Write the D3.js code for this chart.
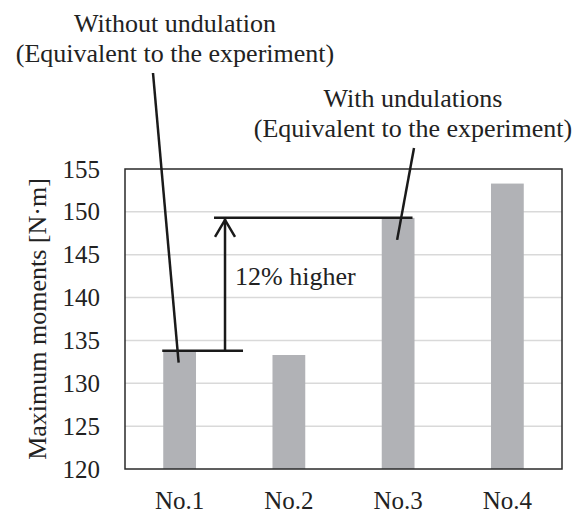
<!DOCTYPE html>
<html>
<head>
<meta charset="utf-8">
<script src="https://cdn.jsdelivr.net/npm/d3@7"></script>
</head>
<body style="margin:0">
<svg id="chart" width="586" height="513"></svg>
<script>
// Maximum moment per case
const categories = ["No.1", "No.2", "No.3", "No.4"];
const moments = [133.8, 133.3, 149.3, 153.3];
const yTicks = [120, 125, 130, 135, 140, 145, 150, 155];
const yTitle = "Maximum moments [N\u00B7m]";
const noteLeft = ["Without undulation", "(Equivalent to the experiment)"];
const noteRight = ["With undulations", "(Equivalent to the experiment)"];
const increaseLabel = "12% higher";

const typefaces = ["Liberation Serif"];
const INK = "#222";

const svg = d3.select("#chart");
const plot = { left: 125, right: 562, top: 169, bottom: 469 };

const x = d3.scaleBand()
  .domain(categories)
  .range([plot.left, plot.right])
  .paddingInner(0.7)
  .paddingOuter(0.35);

const y = d3.scaleLinear()
  .domain([120, 155])
  .range([plot.bottom, plot.top]);

// gridlines
svg.append("g")
  .selectAll("line")
  .data(yTicks.slice(1, -1))
  .join("line")
  .attr("x1", plot.left).attr("x2", plot.right)
  .attr("y1", d => y(d)).attr("y2", d => y(d))
  .attr("stroke", "#d9d9d9")
  .attr("stroke-width", 1.5);

// bars
svg.append("g")
  .selectAll("rect")
  .data(categories.map((c, i) => ({ c, v: moments[i] })))
  .join("rect")
  .attr("x", d => x(d.c))
  .attr("width", x.bandwidth())
  .attr("y", d => y(d.v))
  .attr("height", d => y(120) - y(d.v))
  .attr("fill", "#b1b2b6");

// plot frame
svg.append("rect")
  .attr("x", plot.left).attr("y", plot.top)
  .attr("width", plot.right - plot.left)
  .attr("height", plot.bottom - plot.top)
  .attr("fill", "none")
  .attr("stroke", "#2a2a2a")
  .attr("stroke-width", 1.5);

// y axis labels
const yAxis = d3.axisLeft(y).tickValues(yTicks).tickSize(0).tickPadding(25);
const gy = svg.append("g")
  .attr("transform", `translate(${plot.left},0)`)
  .call(yAxis)
  .attr("font-family", null)
  .attr("font-size", null);
gy.select(".domain").remove();
gy.selectAll("text").attr("data-size", 25);

// x axis labels
const xAxis = d3.axisBottom(x).tickSize(0).tickPadding(22);
const gx = svg.append("g")
  .attr("transform", `translate(0,${plot.bottom})`)
  .call(xAxis)
  .attr("font-family", null)
  .attr("font-size", null);
gx.select(".domain").remove();
gx.selectAll("text").attr("data-size", 25);

// y axis title
svg.append("text")
  .attr("transform", `translate(46,${(plot.top + plot.bottom) / 2}) rotate(-90)`)
  .attr("text-anchor", "middle")
  .attr("data-size", 26)
  .text(yTitle);

// comparison markers between No.1 and No.3
const ann = svg.append("g").attr("stroke", "#1a1a1a").attr("stroke-width", 2.5).attr("fill", "none");
const yLow = y(moments[0]);
const yHigh = y(moments[2]);
const xLowStart = x("No.1") - 1;
const xArrow = x("No.1") + x.bandwidth() + 29;
const xHighEnd = x("No.3") + x.bandwidth() - 2;

ann.append("line")
  .attr("x1", xLowStart).attr("x2", xArrow + 18)
  .attr("y1", yLow).attr("y2", yLow);
ann.append("line")
  .attr("x1", xArrow - 11).attr("x2", xHighEnd)
  .attr("y1", yHigh).attr("y2", yHigh);
ann.append("line")
  .attr("x1", xArrow).attr("x2", xArrow)
  .attr("y1", yLow).attr("y2", yHigh + 1);
ann.append("path")
  .attr("d", `M${xArrow - 10},${yHigh + 19} L${xArrow},${yHigh + 2} L${xArrow + 10},${yHigh + 19}`);

svg.append("text")
  .attr("x", xArrow + 10)
  .attr("y", (yLow + yHigh) / 2 + 1)
  .attr("data-size", 26)
  .text(increaseLabel);

// callout leaders
const leaders = svg.append("g").attr("stroke", "#1a1a1a").attr("stroke-width", 2.5);
leaders.append("line")
  .attr("x1", 153).attr("y1", 73)
  .attr("x2", x("No.1") + x.bandwidth() / 2 - 1).attr("y2", yLow + 12);
leaders.append("line")
  .attr("x1", 414).attr("y1", 148)
  .attr("x2", x("No.3") + x.bandwidth() / 2 - 1).attr("y2", yHigh + 22);

// callout texts
function note(lines, cx, y0) {
  lines.forEach((s, i) => {
    svg.append("text")
      .attr("text-anchor", "middle")
      .attr("x", cx).attr("y", y0 + i * 30)
      .attr("data-size", 26)
      .text(s);
  });
}
note(noteLeft, 175, 32);
note(noteRight, 413, 107);

// shared typography for every label
svg.selectAll("text")
  .style("font-family", () => `'${typefaces[0]}'`, "important")
  .style("font-size", function () { return this.getAttribute("data-size") + "px"; })
  .style("fill", INK);
</script>
</body>
</html>
